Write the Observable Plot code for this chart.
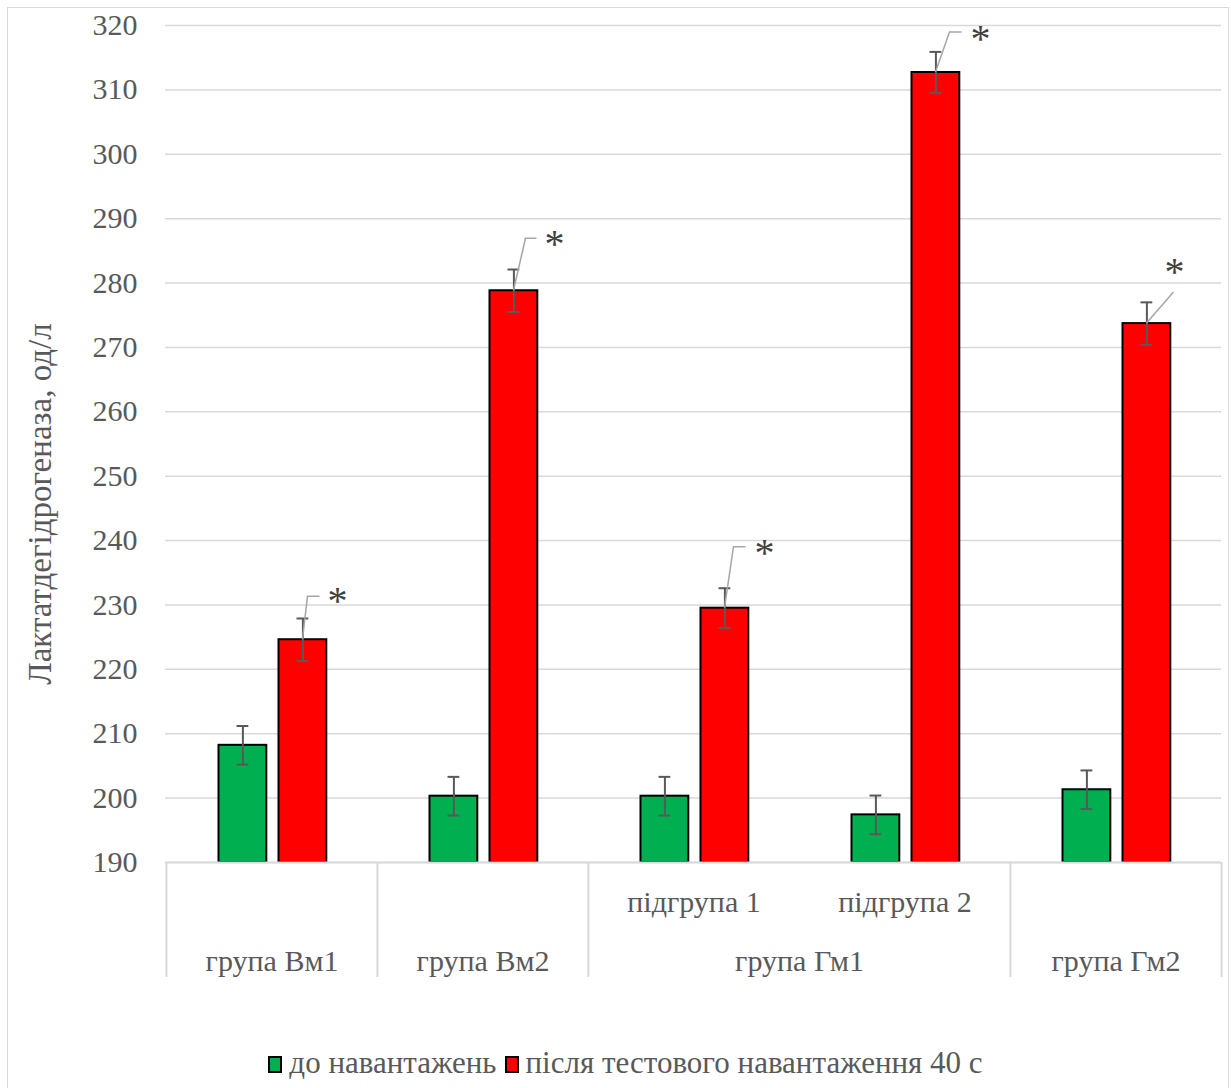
<!DOCTYPE html>
<html>
<head>
<meta charset="utf-8">
<script src="https://cdn.jsdelivr.net/npm/d3@7"></script>
<script src="https://cdn.jsdelivr.net/npm/@observablehq/plot@0.6"></script>
<style>
  body { margin: 0; background: #fff; }
  #wrap { position: relative; width: 1231px; height: 1088px; overflow: hidden;
          font-family: "Liberation Serif", "Times New Roman", Tinos, "DejaVu Serif", FreeSerif, "Nimbus Roman", serif; color: #595959; }
  #frame { position: absolute; left: 7px; top: 7px; width: 1222px; height: 1090px;
           border: 1.5px solid #d9d9d9; box-sizing: border-box; pointer-events: none; }
  #chart { position: absolute; left: 0; top: 0; }
  #legend { position: absolute; left: 0; top: 1046px; width: 1231px; display: flex;
            justify-content: center; align-items: center; font-size: 31px; line-height: 34px;
            padding-left: 20px; box-sizing: border-box; white-space: nowrap; }
  .item { display: flex; align-items: center; margin: 0 4px; }
  .sw { width: 10px; height: 13px; border: 2px solid #000; margin-right: 7px; margin-top: 2px; }
</style>
</head>
<body>
<div id="wrap">
  <div id="chart"></div>
  <div id="legend"></div>
  <div id="frame"></div>
</div>
<script>
// ---- data ----
const categories = ["Вм1", "Вм2", "Гм1-1", "Гм1-2", "Гм2"];
const subgroupLabels = ["", "", "підгрупа 1", "підгрупа 2", ""];
const groupLabels = ["група Вм1", "група Вм2", "група Гм1", "група Гм2"];
const groupSpans = [1, 1, 2, 1];
const seriesNames = ["до навантажень", "після тестового навантаження 40 с"];
const before = [208.2, 200.3, 200.3, 197.4, 201.3];
const beforeErr = [3.0, 3.0, 3.0, 3.0, 3.0];
const after = [224.6, 278.8, 229.5, 312.7, 273.7];
const afterErr = [3.3, 3.3, 3.1, 3.2, 3.3];
const significant = ["*", "*", "*", "*", "*"];
const yTicks = [190, 200, 210, 220, 230, 240, 250, 260, 270, 280, 290, 300, 310, 320];
const yTitle = "Лактатдегідрогеназа, од/л";

// ---- style / layout ----
const FONT = '"Liberation Serif", "Times New Roman", Tinos, "DejaVu Serif", FreeSerif, "Nimbus Roman", serif';
const colors = ["#00B050", "#FF0000"];
const textColor = "#595959";
const gridColor = "#d9d9d9";
const W = 1231, H = 1000, ML = 165, MR = 10, MT = 25, MB = 138;
const bw = (W - ML - MR) / categories.length;
const barW = 48, c0 = 76.5, c1 = 136.5; // bar centres inside a band
const capHalf = 6;
// leader offsets (px) from the top of each red bar, and star offsets
const leaderPts = [[[5, -43], [17, -43]], [[12, -52], [23, -52]], [[9, -61], [21, -61]], [[14, -40], [26, -40]], [[27, -31]]];
const starPos = [[35, -47], [41, -55], [40, -64], [45, -42], [28, -60]];

const rows0 = categories.map((c, i) => ({cat: c, value: before[i], err: beforeErr[i]}));
const rows1 = categories.map((c, i) => ({cat: c, value: after[i], err: afterErr[i]}));

// group label positions
let acc = 0;
const groupRows = groupLabels.map((g, i) => {
  const r = {cat: categories[acc], label: g, span: groupSpans[i]};
  acc += groupSpans[i];
  return r;
});

function barMarks(rows, center, fill) {
  return [
    Plot.barY(rows, {x: "cat", y1: 190, y2: "value", fill, stroke: "#000", strokeWidth: 2,
      insetLeft: center - barW / 2, insetRight: bw - center - barW / 2})
  ];
}
function errMarks(rows, center) {
  const st = {stroke: "#595959", strokeWidth: 2};
  return [
    Plot.ruleX(rows, {x: "cat", y1: d => d.value - d.err, y2: d => d.value + d.err, dx: center - bw / 2, ...st}),
    Plot.tickY(rows, {x: "cat", y: d => d.value + d.err, insetLeft: center - capHalf, insetRight: bw - center - capHalf, ...st}),
    Plot.tickY(rows, {x: "cat", y: d => d.value - d.err, insetLeft: center - capHalf, insetRight: bw - center - capHalf, ...st})
  ];
}

function leaders(index, scales) {
  const x = scales.x, y = scales.y;
  const g = d3.create("svg:g");
  categories.forEach((c, i) => {
    if (!significant[i]) return;
    const ax = x(c) + c1, ay = y(after[i]);
    const pts = [[ax, ay], ...leaderPts[i].map(([dx, dy]) => [ax + dx, ay + dy])];
    g.append("polyline").attr("points", pts.map(p => p.join(",")).join(" "))
      .attr("fill", "none").attr("stroke", "#a6a6a6").attr("stroke-width", 1.5);
    g.append("text").attr("x", ax + starPos[i][0]).attr("y", ay + starPos[i][1] + 22)
      .attr("text-anchor", "middle").attr("fill", "#404040").attr("font-size", 40)
      .attr("font-family", FONT)
      .text(significant[i]);
  });
  return g.node();
}

const txt = {fontSize: 30, fill: textColor, fontFamily: FONT};

const chart = Plot.plot({
  width: W, height: H,
  marginLeft: ML, marginRight: MR, marginTop: MT, marginBottom: MB,
  style: {fontFamily: FONT, color: textColor, background: "transparent", overflow: "visible"},
  x: {domain: categories, padding: 0, axis: null},
  y: {domain: [190, 320], axis: null},
  marks: [
    Plot.ruleY(yTicks, {stroke: gridColor, strokeWidth: 1.5}),
    Plot.axisY({ticks: yTicks, tickSize: 0, tickPadding: 28, label: null, tickFormat: d => String(d), ...txt}),
    ...barMarks(rows0, c0, colors[0]),
    ...barMarks(rows1, c1, colors[1]),
    ...errMarks(rows0, c0),
    ...errMarks(rows1, c1),
    Plot.ruleY([yTicks[0]], {stroke: gridColor, strokeWidth: 2}),
    // category separators
    Plot.ruleX(groupRows, {x: "cat", y1: 190, y2: 190, dx: -bw / 2, insetBottom: -115, stroke: gridColor, strokeWidth: 2}),
    Plot.ruleX([categories[categories.length - 1]], {x: d => d, y1: 190, y2: 190, dx: bw / 2, insetBottom: -115, stroke: gridColor, strokeWidth: 2}),
    // category labels
    Plot.text(categories.map((c, i) => ({cat: c, label: subgroupLabels[i]})).filter(d => d.label),
      {x: "cat", y: 190, text: "label", dy: 49, lineAnchor: "bottom", ...txt}),
    Plot.text(groupRows.filter(d => d.span === 1), {x: "cat", y: 190, text: "label", dy: 108, lineAnchor: "bottom", ...txt}),
    Plot.text(groupRows.filter(d => d.span === 2), {x: "cat", y: 190, text: "label", dx: bw / 2, dy: 108, lineAnchor: "bottom", ...txt}),
    leaders,
    Plot.text([yTitle], {frameAnchor: "left", textAnchor: "middle", rotate: -90, dx: -125, dy: 60, ...txt, fontSize: 33})
  ]
});
document.getElementById("chart").appendChild(chart);

// legend
const legend = document.getElementById("legend");
seriesNames.forEach((s, i) => {
  const it = document.createElement("div");
  it.className = "item";
  const sw = document.createElement("div");
  sw.className = "sw";
  sw.style.background = colors[i];
  const tx = document.createElement("span");
  tx.textContent = s;
  it.appendChild(sw); it.appendChild(tx);
  legend.appendChild(it);
});
</script>
</body>
</html>
